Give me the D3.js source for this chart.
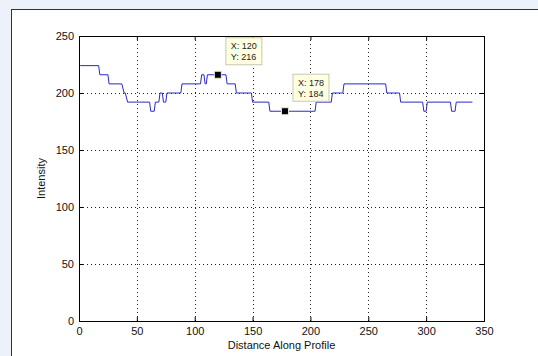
<!DOCTYPE html>
<html>
<head>
<meta charset="utf-8">
<script src="https://cdn.jsdelivr.net/npm/d3@7"></script>
<style>
  html, body { margin: 0; padding: 0; background: #ecf1fa; }
  svg { display: block; }
  text { font-family: "Liberation Sans", Arial, Helvetica, sans-serif; }
</style>
</head>
<body>
<svg id="chart" width="538" height="356"></svg>
<script>
// ---- data ----
const runStart = [1, 18, 26, 39, 42, 62, 66, 70, 73, 76, 89, 106, 109, 111, 128, 136, 150, 165, 205, 219, 229, 266, 278, 298, 301, 322, 326];
const runEnd   = [17, 25, 37, 40, 61, 65, 69, 72, 75, 88, 105, 108, 110, 127, 135, 149, 164, 204, 218, 228, 265, 277, 297, 300, 321, 325, 340];
const runValue = [224, 216, 208, 200, 192, 184, 192, 200, 192, 200, 208, 216, 208, 216, 208, 200, 192, 184, 192, 200, 208, 200, 192, 184, 192, 184, 192];

const tipX = [120, 178];
const tipY = [216, 184];

const xTicks = [0, 50, 100, 150, 200, 250, 300, 350];
const yTicks = [0, 50, 100, 150, 200, 250];
const xLabel = "Distance Along Profile";
const yLabel = "Intensity";

// ---- drawing ----
const svg = d3.select("#chart");
const W = 538, H = 356;

// figure panel
svg.append("rect").attr("x", 0).attr("y", 0).attr("width", W).attr("height", H).attr("fill", "#ecf1fa");
svg.append("rect").attr("x", 11.5).attr("y", 9.5).attr("width", W).attr("height", H)
  .attr("fill", "#ffffff").attr("stroke", "#333333").attr("stroke-width", 1);

const x = d3.scaleLinear().domain([0, 350]).range([79, 484]);
const y = d3.scaleLinear().domain([0, 250]).range([321, 36]);

// grid
const grid = svg.append("g").attr("stroke", "#222").attr("stroke-width", 1)
  .attr("stroke-dasharray", "1,3").attr("shape-rendering", "crispEdges");
xTicks.slice(1, -1).forEach(t => {
  grid.append("line").attr("x1", Math.round(x(t)) + 0.5).attr("x2", Math.round(x(t)) + 0.5)
    .attr("y1", y(250)).attr("y2", y(0));
});
yTicks.slice(1, -1).forEach(t => {
  grid.append("line").attr("y1", Math.round(y(t)) + 0.5).attr("y2", Math.round(y(t)) + 0.5)
    .attr("x1", x(0)).attr("x2", x(350));
});

// axes
const xAxis = d3.axisBottom(x).tickValues(xTicks).tickFormat(d3.format("d")).tickSize(-4).tickSizeOuter(0).tickPadding(6);
const yAxis = d3.axisLeft(y).tickValues(yTicks).tickFormat(d3.format("d")).tickSize(-4).tickSizeOuter(0).tickPadding(5);

const gx = svg.append("g").attr("transform", `translate(0,${y(0)})`).call(xAxis);
const gy = svg.append("g").attr("transform", `translate(${x(0)},0)`).call(yAxis);
[gx, gy].forEach(g => {
  g.select(".domain").remove();
  g.selectAll("text").attr("font-size", 11).attr("fill", "#111")
    .attr("font-family", "'Liberation Sans', Arial, sans-serif");
  g.selectAll("line").attr("stroke", "#000");
});
// top/right ticks
const gt = svg.append("g").attr("transform", `translate(0,${y(250)})`)
  .call(d3.axisTop(x).tickValues(xTicks).tickSize(-4).tickSizeOuter(0).tickFormat(""));
const gr = svg.append("g").attr("transform", `translate(${x(350)},0)`)
  .call(d3.axisRight(y).tickValues(yTicks).tickSize(-4).tickSizeOuter(0).tickFormat(""));
[gt, gr].forEach(g => { g.select(".domain").remove(); g.selectAll("line").attr("stroke", "#000"); });

// box
svg.append("rect").attr("x", x(0) + 0.5).attr("y", y(250) + 0.5)
  .attr("width", x(350) - x(0)).attr("height", y(0) - y(250))
  .attr("fill", "none").attr("stroke", "#000").attr("stroke-width", 1);

// profile line
const pts = [];
runStart.forEach((s, i) => { pts.push([s, runValue[i]]); pts.push([runEnd[i], runValue[i]]); });
svg.append("path").datum(pts)
  .attr("d", d3.line().x(d => x(d[0])).y(d => y(d[1])))
  .attr("fill", "none").attr("stroke", "#2a2ac4").attr("stroke-width", 1);

// labels
svg.append("text").attr("x", (x(0) + x(350)) / 2).attr("y", 349)
  .attr("text-anchor", "middle").attr("font-size", 11).attr("fill", "#111").text(xLabel);
svg.append("text").attr("transform", `translate(45,${(y(0) + y(250)) / 2}) rotate(-90)`)
  .attr("text-anchor", "middle").attr("font-size", 11).attr("fill", "#111").text(yLabel);

// data tips
tipX.forEach((tx, i) => {
  const mx = x(tx), my = y(tipY[i]);
  const g = svg.append("g");
  g.append("rect").attr("x", mx + 8).attr("y", my - 37).attr("width", 36).attr("height", 27)
    .attr("fill", "#ffffe1").attr("stroke", "#c8c8b0").attr("stroke-width", 1);
  g.append("text").attr("x", mx + 13).attr("y", my - 25.5).attr("font-size", 9).attr("fill", "#222")
    .text("X: " + tx);
  g.append("text").attr("x", mx + 13).attr("y", my - 14.5).attr("font-size", 9).attr("fill", "#222")
    .text("Y: " + tipY[i]);
  g.append("rect").attr("x", mx - 3.5).attr("y", my - 3.5).attr("width", 7).attr("height", 7)
    .attr("fill", "#000").attr("stroke", "#e8e8d0").attr("stroke-width", 1);
});
</script>
</body>
</html>
